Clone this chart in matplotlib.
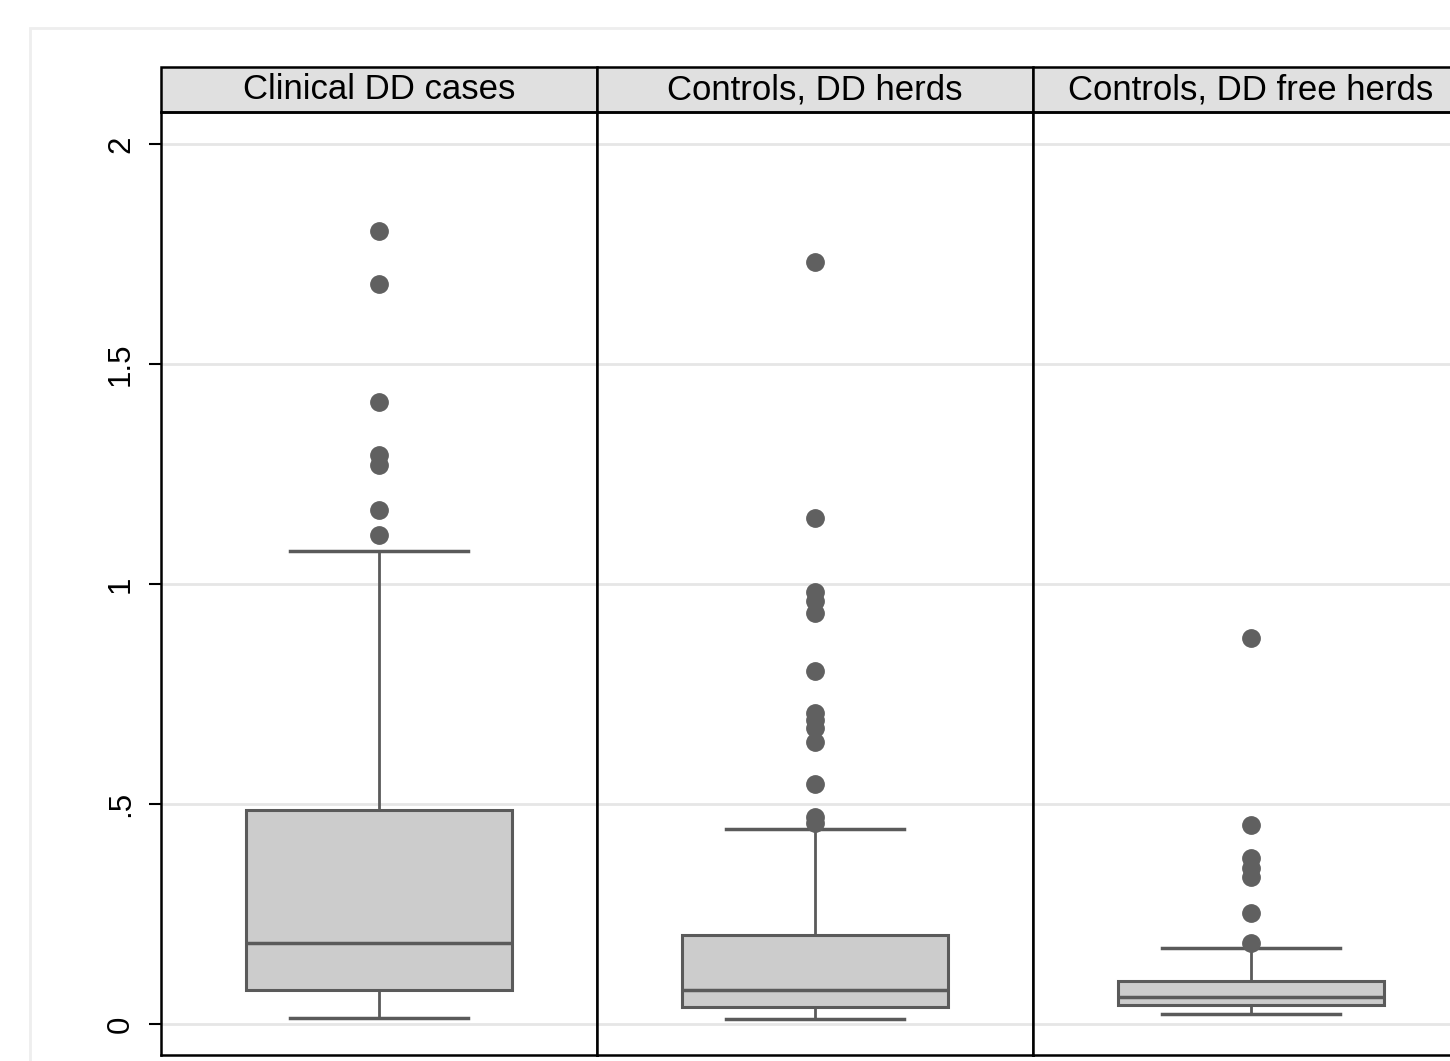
import matplotlib.pyplot as plt
from matplotlib.patches import Rectangle

plt.rcParams['font.family'] = ['Liberation Sans', 'DejaVu Sans']

groups = ["Clinical DD cases", "Controls, DD herds", "Controls, DD free herds"]
q1 = [0.077, 0.039, 0.043]
med = [0.184, 0.077, 0.061]
q3 = [0.486, 0.202, 0.098]
whislo = [0.014, 0.011, 0.023]
whishi = [1.075, 0.443, 0.173]
fliers = [
    [1.802, 1.682, 1.414, 1.293, 1.270, 1.168, 1.111],
    [1.732, 1.150, 0.982, 0.961, 0.934, 0.802, 0.707, 0.691, 0.673, 0.641,
     0.545, 0.470, 0.457],
    [0.877, 0.452, 0.377, 0.355, 0.334, 0.252, 0.184],
]
yticks = [0, 0.5, 1, 1.5, 2]
yticklabels = ["0", ".5", "1", "1.5", "2"]

W, H = 1450, 1061
fig = plt.figure(figsize=(W / 100, H / 100), dpi=100)
fig.patch.set_facecolor("white")

# outer graph region border (light gray)
fig.patches.append(Rectangle((30 / W, -0.1), 1.2, (1061 - 28) / H + 0.1,
                             transform=fig.transFigure, fill=False,
                             edgecolor="#eeeeee", linewidth=2))

edge = "#5a5a5a"
left0, pw = 161, 436
bottom = (H - 1055) / H
height = (1055 - 112) / H
ylim = ((1024 - 1055) / 440, (1024 - 112) / 440)

for i, g in enumerate(groups):
    ax = fig.add_axes([(left0 + i * pw) / W, bottom, pw / W, height])
    stats = [dict(med=med[i], q1=q1[i], q3=q3[i], whislo=whislo[i],
                  whishi=whishi[i], fliers=fliers[i], label=g)]
    ax.bxp(stats, positions=[1], widths=0.61, capwidths=0.41,
           patch_artist=True,
           boxprops=dict(facecolor="#cccccc", edgecolor=edge, linewidth=2.2),
           medianprops=dict(color=edge, linewidth=2.5),
           whiskerprops=dict(color=edge, linewidth=2),
           capprops=dict(color=edge, linewidth=2.5),
           flierprops=dict(marker="o", markerfacecolor="#606060",
                           markeredgecolor="#606060", markersize=12.5))
    ax.set_xlim(0.5, 1.5)
    ax.set_ylim(*ylim)
    ax.set_xticks([])
    ax.set_yticks(yticks)
    for y in yticks:
        ax.axhline(y, color="#e6e6e6", linewidth=2, zorder=0)
    for s in ax.spines.values():
        s.set_linewidth(1.8)
        s.set_color("black")
    if i == 0:
        ax.set_yticklabels(yticklabels, rotation=90, va="center", fontsize=22.5)
        ax.tick_params(axis="y", length=9, width=1.5, pad=9)
    else:
        ax.tick_params(axis="y", length=0, labelleft=False)
    sh = 45 / (1055 - 112)
    ax.add_patch(Rectangle((0, 1), 1, sh, transform=ax.transAxes,
                           facecolor="#e0e0e0", edgecolor="black",
                           linewidth=1.8, clip_on=False))
    ax.text(0.5, 1 + sh / 2, g, transform=ax.transAxes, ha="center",
            va="center", fontsize=25)

fig.savefig("out.png", dpi=100)
